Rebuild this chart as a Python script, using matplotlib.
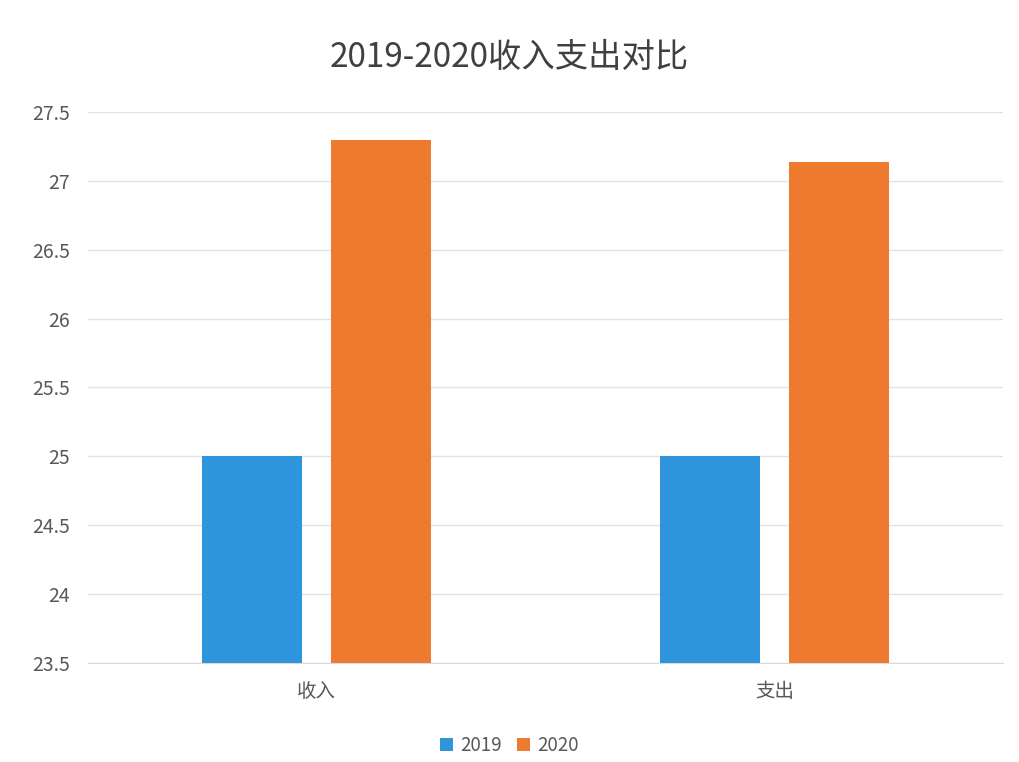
import numpy as np
import matplotlib
matplotlib.use('Agg')
import matplotlib.pyplot as plt

plt.rcParams['font.family'] = ['Noto Sans CJK SC', 'DejaVu Sans']

categories = ['收入', '支出']
series_names = ['2019', '2020']
values_2019 = [25.0, 25.0]
values_2020 = [27.3, 27.14]
y_ticks = [23.5, 24, 24.5, 25, 25.5, 26, 26.5, 27, 27.5]
y_tick_labels = ['23.5', '24', '24.5', '25', '25.5', '26', '26.5', '27', '27.5']
title = '2019-2020收入支出对比'

colors = ['#2f95dc', '#ee7a30']
base = 23.5

fig = plt.figure(figsize=(10.19, 7.62), dpi=100)
ax = fig.add_axes([0.0864, 0.130, 0.898, 0.723])

x = np.arange(len(categories))
width = 0.219
offset = 0.141
b1 = ax.bar(x - offset, np.array(values_2019) - base, width, bottom=base,
            color=colors[0], label=series_names[0], zorder=3)
b2 = ax.bar(x + offset, np.array(values_2020) - base, width, bottom=base,
            color=colors[1], label=series_names[1], zorder=3)

ax.set_xlim(-0.5, len(categories) - 0.5)
ax.set_ylim(23.5, 27.5)
ax.set_yticks(y_ticks)
ax.set_yticklabels(y_tick_labels)
ax.set_xticks(x)
ax.set_xticklabels(categories)

ax.grid(axis='y', color='#e3e3e3', linewidth=1.0, zorder=0)
for s in ['top', 'right', 'left']:
    ax.spines[s].set_visible(False)
ax.spines['bottom'].set_color('#d9d9d9')
ax.tick_params(axis='both', length=0, labelsize=14, colors='#595959')
ax.tick_params(axis='y', pad=13)
ax.tick_params(axis='x', pad=13)

fig.text(0.5, 0.925, title, ha='center', va='center', fontsize=24, color='#404040')

fig.legend(handles=[b1, b2], labels=series_names, loc='center',
           bbox_to_anchor=(0.5, 0.021), ncol=2, frameon=False, fontsize=13.5,
           handlelength=0.7, handleheight=0.7, handletextpad=0.4, columnspacing=0.8,
           labelcolor='#595959')

fig.savefig('out.png', dpi=100, facecolor='white')
